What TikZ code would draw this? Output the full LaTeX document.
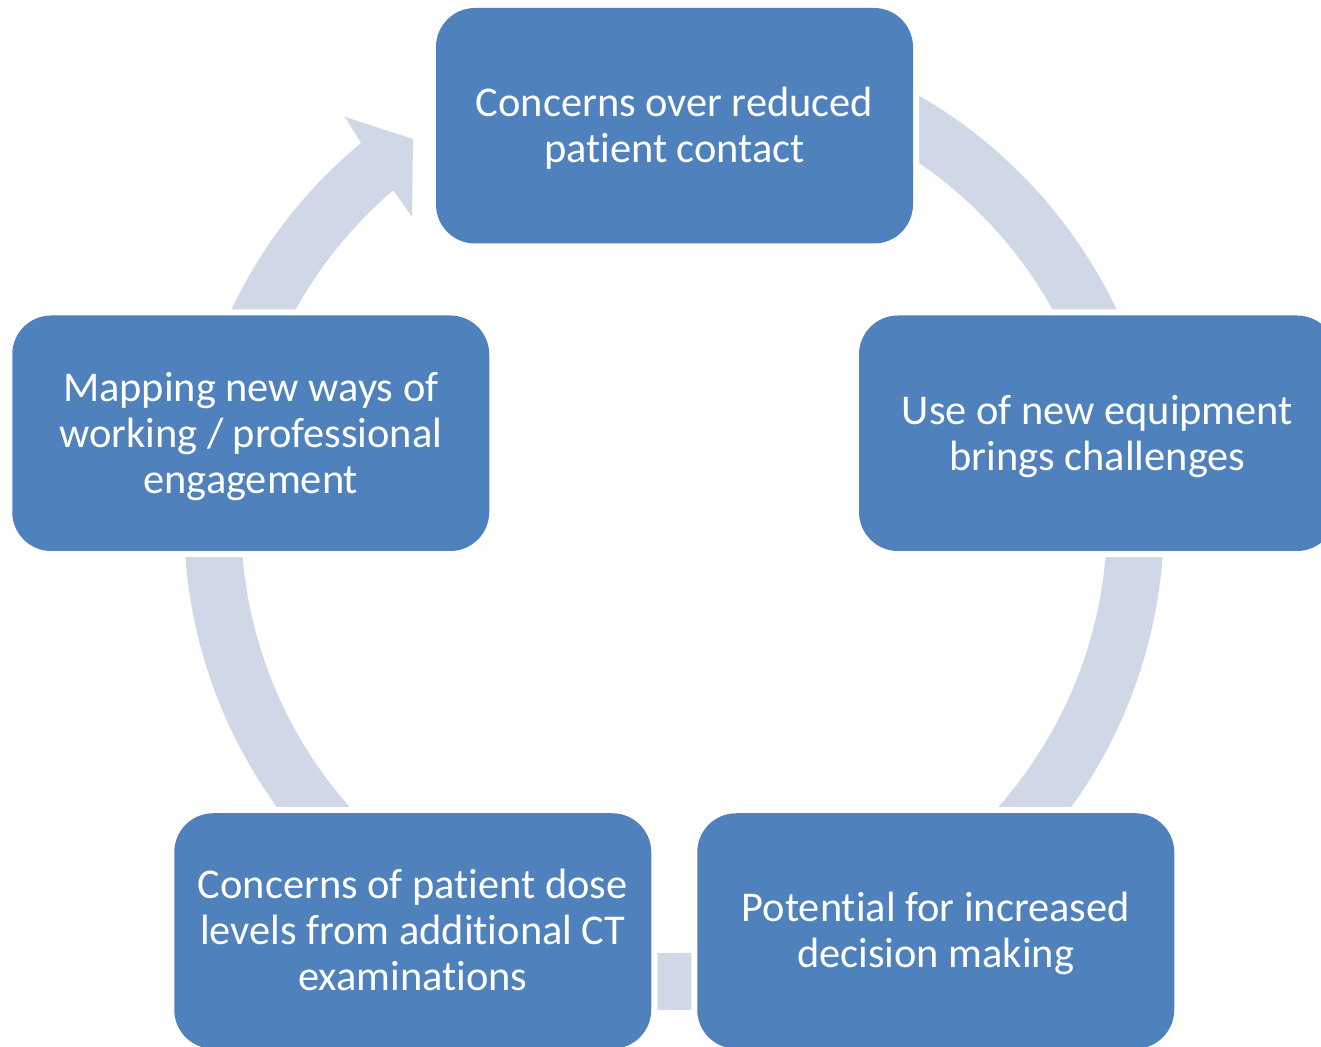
\documentclass[tikz,border=0pt]{standalone}
\usepackage{fontspec}
\setmainfont{Carlito}[Ligatures={NoCommon}]
\usetikzlibrary{calc}
\definecolor{boxblue}{HTML}{4F81BD}
\definecolor{ringc}{HTML}{D0D8E8}
\begin{document}
\begin{tikzpicture}[x=1pt,y=1pt,
  box/.style={rectangle, rounded corners=39pt, fill=boxblue,
    minimum width=477pt, minimum height=235.5pt, inner sep=0pt,
    text=white, font=\fontsize{42.4}{46}\selectfont,
    preaction={draw=white, line width=12pt}, text height=38pt},
  twolines/.style={text depth=56pt},
  threelines/.style={text depth=102pt}]
\useasboundingbox (0,0) rectangle (1321,1046);
\clip (0,0) rectangle (1321,1046);
\coordinate (c) at (674,526);
% cycle arrow
\fill[ringc] (c) ++(129.7:490) arc[start angle=129.7, end angle=465, radius=490]
  -- ($(c)+(465:433)$) arc[start angle=465, end angle=130.4, radius=433]
  -- (412,829) -- (413,907) -- (345,929) -- cycle;
% boxes
\node[box,twolines] (top) at (674.5,920.25)
  {\begin{tabular}[t]{@{}c@{}}Concerns over reduced\\patient contact\end{tabular}};
\node[box,twolines] (right) at (1097.5,612.75)
  {\begin{tabular}[t]{@{}c@{}}Use of new equipment\\brings challenges\end{tabular}};
\node[box,twolines] (bright) at (935.75,115)
  {\begin{tabular}[t]{@{}c@{}}Potential for increased\\decision making\end{tabular}};
\node[box,threelines] (bleft) at (412.75,115)
  {\begin{tabular}[t]{@{}c@{}}Concerns of patient dose\\levels from additional CT\\examinations\end{tabular}};
\node[box,threelines] (left) at (250.75,612.75)
  {\begin{tabular}[t]{@{}c@{}}Mapping new ways of\\working / professional\\engagement\end{tabular}};
\end{tikzpicture}
\end{document}
